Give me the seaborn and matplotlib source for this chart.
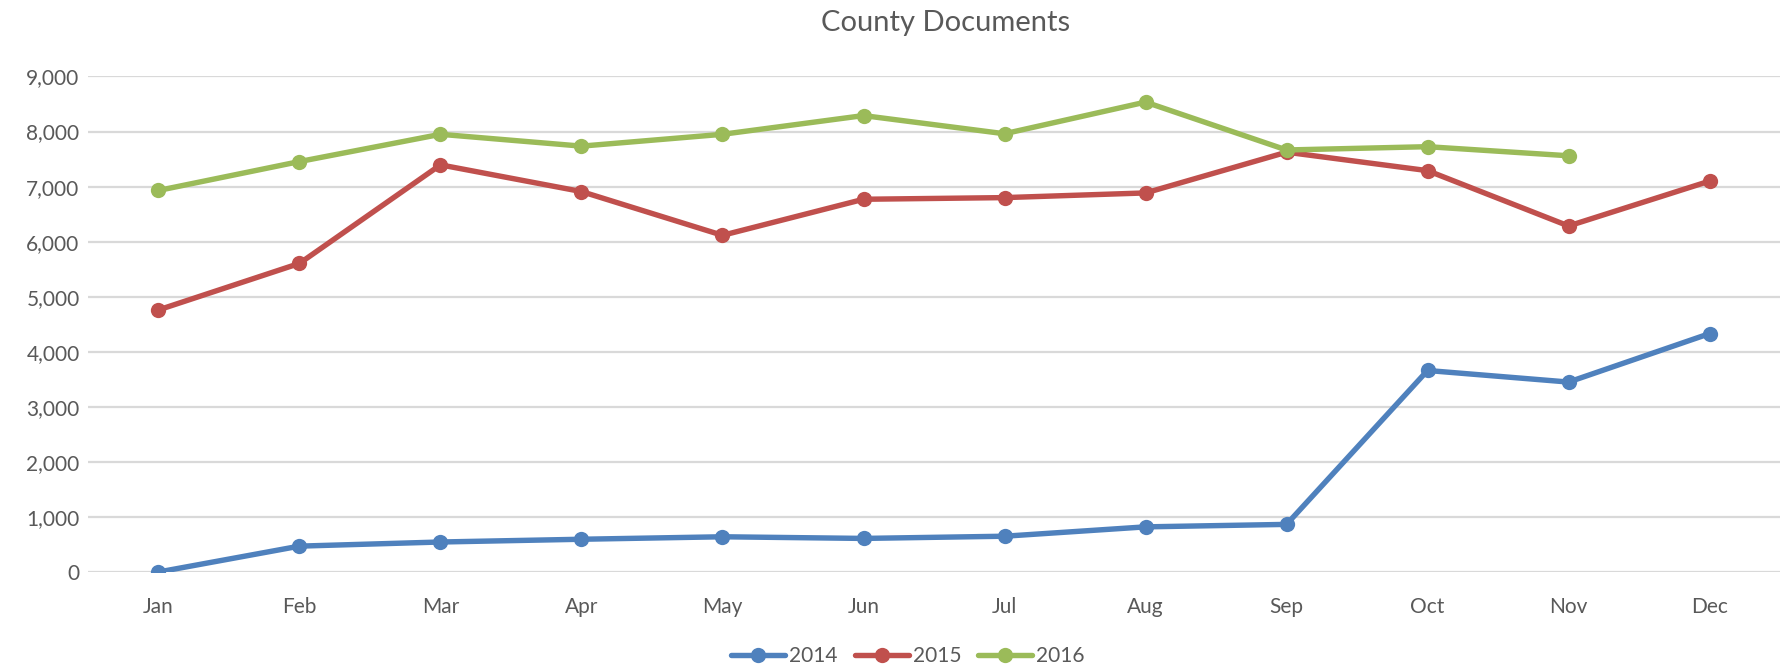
import pandas as pd
import matplotlib
matplotlib.use("Agg")
import matplotlib.pyplot as plt
import seaborn as sns
from matplotlib.ticker import FuncFormatter

months = ["Jan", "Feb", "Mar", "Apr", "May", "Jun",
          "Jul", "Aug", "Sep", "Oct", "Nov", "Dec"]
docs_2014 = [0, 470, 545, 595, 640, 610, 650, 820, 865, 3660, 3450, 4330]
docs_2015 = [4760, 5605, 7395, 6910, 6115, 6770, 6800, 6885, 7625, 7290, 6285, 7100]
docs_2016 = [6930, 7455, 7950, 7735, 7950, 8290, 7960, 8535, 7665, 7725, 7560, None]
years = ["2014", "2015", "2016"]
colors = ["#4F81BD", "#C0504D", "#9BBB59"]

rows = []
for year, vals in zip(years, [docs_2014, docs_2015, docs_2016]):
    for m, v in zip(months, vals):
        if v is not None:
            rows.append({"month": m, "year": year, "docs": v})
df = pd.DataFrame(rows)

sns.set_style("white")
plt.rcParams["font.family"] = ["Lato", "DejaVu Sans"]
text_color = "#595959"

fig = plt.figure(figsize=(17.91, 6.68), dpi=100)
ax = fig.add_axes([0.0491, 0.1437, 0.9448, 0.7418])

sns.lineplot(data=df, x="month", y="docs", hue="year", hue_order=years,
             palette=colors, marker="o", markersize=11, markeredgewidth=0,
             linewidth=3.9, sort=False, ax=ax, legend=False)

ax.set_xlim(-0.5, 11.5)
ax.set_ylim(0, 9000)
ax.set_yticks(range(0, 9001, 1000))
ax.yaxis.set_major_formatter(FuncFormatter(lambda v, p: f"{int(v):,}"))
ax.grid(axis="y", color="#D9D9D9", linewidth=1.6)
ax.set_axisbelow(True)
for s in ax.spines.values():
    s.set_visible(False)
ax.tick_params(axis="both", length=0, labelsize=15, colors=text_color)
ax.tick_params(axis="y", pad=6)
ax.tick_params(axis="x", pad=18)
ax.set_xlabel("")
ax.set_ylabel("")

fig.suptitle("County Documents", x=0.528, y=0.985, fontsize=21, color=text_color)

handles = [plt.Line2D([], [], color=c, marker="o", markersize=11,
                      markeredgewidth=0, linewidth=3.9) for c in colors]
fig.legend(handles, years, loc="lower center", bbox_to_anchor=(0.507, -0.025),
           ncol=3, frameon=False, fontsize=15, labelcolor=text_color,
           handlelength=2.6, columnspacing=0.8, handletextpad=0.2)

fig.savefig("out.png", dpi=100)
